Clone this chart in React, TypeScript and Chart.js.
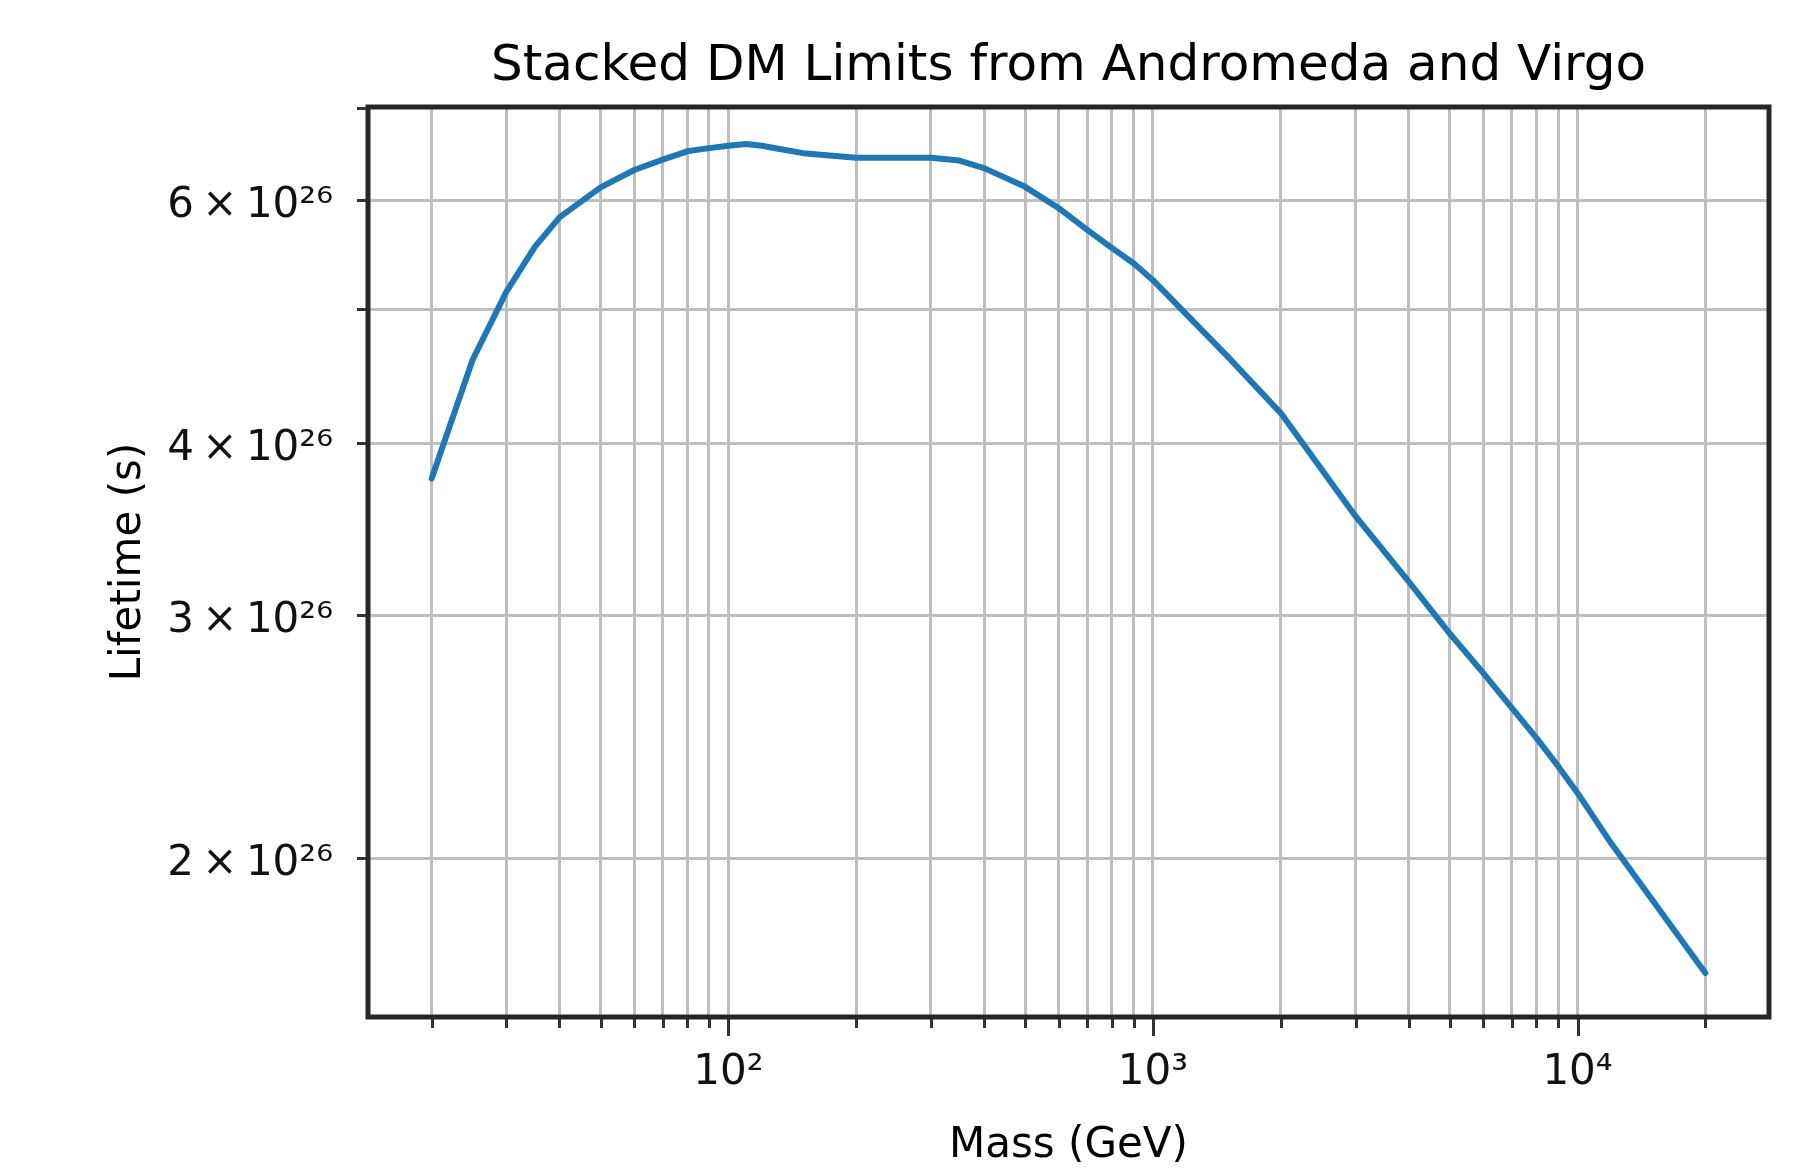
import React, { useEffect, useRef } from 'react';
import { Chart, registerables } from 'chart.js';

Chart.register(...registerables);

// ---- data ----
const masses = [20, 25, 30, 35, 40, 50, 60, 70, 80, 90, 100, 110, 120, 130, 150, 200, 250, 300, 350, 400, 500, 600, 700, 800, 900, 1000, 1500, 2000, 3000, 4000, 5000, 6000, 7000, 8000, 9000, 10000, 12000, 20000];
// lifetime in units of 1e26 s
const lifetimes = [3.77, 4.6, 5.15, 5.55, 5.83, 6.13, 6.31, 6.42, 6.51, 6.545, 6.57, 6.59, 6.57, 6.54, 6.49, 6.44, 6.44, 6.44, 6.41, 6.33, 6.135, 5.92, 5.71, 5.54, 5.4, 5.25, 4.62, 4.205, 3.54, 3.175, 2.91, 2.724, 2.57, 2.445, 2.332, 2.23, 2.05, 1.651];
const lifetimeScale = 1e26;

const xTickValues = [20, 30, 40, 50, 60, 70, 80, 90, 100, 200, 300, 400, 500, 600, 700, 800, 900, 1000, 2000, 3000, 4000, 5000, 6000, 7000, 8000, 9000, 10000, 20000];
const xMajorValues = [100, 1000, 10000];
const xMajorLabels = ['10²', '10³', '10⁴'];

const yTickMantissas = [2, 3, 4, 5, 6, 7];
const yTickLabels = ['2\u2009×\u200910²⁶', '3\u2009×\u200910²⁶', '4\u2009×\u200910²⁶', '', '6\u2009×\u200910²⁶', ''];

const xLimits = [14.16, 28250];
const yLimits = [1.534e26, 7.01e26];

const titleText = 'Stacked DM Limits from Andromeda and Virgo';
const xTitle = 'Mass (GeV)';
const yTitle = 'Lifetime (s)';

const FONT = '"DejaVu Sans", "Liberation Sans", sans-serif';

const framePlugin = {
  id: 'mplFrame',
  afterDraw(chart: any) {
    const { ctx, chartArea: a, scales } = chart;
    ctx.save();
    // tick marks
    ctx.strokeStyle = '#333333';
    ctx.lineWidth = 3;
    ctx.beginPath();
    xTickValues.forEach((v) => {
      const px = Math.round(scales.x.getPixelForValue(v)) + 0.5;
      const len = xMajorValues.includes(v) ? 19 : 11;
      ctx.moveTo(px, a.bottom);
      ctx.lineTo(px, a.bottom + len);
    });
    yTickMantissas.forEach((m) => {
      const v = m * lifetimeScale;
      if (v < yLimits[0] || v > yLimits[1]) return;
      const py = Math.round(scales.y.getPixelForValue(v)) + 0.5;
      ctx.moveTo(a.left, py);
      ctx.lineTo(a.left - 11, py);
    });
    ctx.stroke();
    // frame
    ctx.strokeStyle = '#262626';
    ctx.lineWidth = 5;
    ctx.strokeRect(a.left, a.top, a.right - a.left, a.bottom - a.top);
    // titles
    ctx.fillStyle = '#000000';
    ctx.textAlign = 'center';
    ctx.textBaseline = 'alphabetic';
    const cx = (a.left + a.right) / 2;
    ctx.font = `50px ${FONT}`;
    ctx.fillText(titleText, cx, 80);
    ctx.font = `42px ${FONT}`;
    ctx.fillText(xTitle, cx, 1157);
    ctx.translate(140, (a.top + a.bottom) / 2);
    ctx.rotate(-Math.PI / 2);
    ctx.fillText(yTitle, 0, 0);
    ctx.restore();
  },
};

export default function App() {
  const canvasRef = useRef<HTMLCanvasElement | null>(null);

  useEffect(() => {
    const canvas = canvasRef.current;
    if (!canvas) return;
    const points = masses.map((m, i) => ({ x: m, y: lifetimes[i] * lifetimeScale }));
    const chart = new Chart(canvas, {
      type: 'line',
      data: {
        datasets: [
          {
            data: points,
            borderColor: '#1f77b4',
            backgroundColor: '#1f77b4',
            borderWidth: 6,
            pointRadius: 0,
            tension: 0,
            fill: false,
            borderJoinStyle: 'round',
            borderCapStyle: 'round',
          },
        ],
      },
      options: {
        animation: false,
        responsive: false,
        maintainAspectRatio: false,
        devicePixelRatio: 1,
        parsing: false,
        layout: { padding: { left: 0, right: 36, top: 107, bottom: 0 } },
        plugins: {
          legend: { display: false },
          title: { display: false },
          tooltip: { enabled: false },
        },
        scales: {
          x: {
            type: 'logarithmic',
            position: 'bottom',
            min: xLimits[0],
            max: xLimits[1],
            bounds: 'data',
            afterBuildTicks: (s: any) => {
              s.ticks = xTickValues.map((v) => ({ value: v }));
            },
            afterFit: (s: any) => {
              s.height = 151;
            },
            grid: { color: '#bfbfbf', lineWidth: 3, drawTicks: false },
            border: { display: false },
            ticks: {
              autoSkip: false,
              maxRotation: 0,
              minRotation: 0,
              padding: 35,
              color: '#111111',
              font: { family: FONT, size: 42, lineHeight: 1 },
              callback: (value: any) => {
                const i = xMajorValues.indexOf(Number(value));
                return i >= 0 ? xMajorLabels[i] : '';
              },
            },
          },
          y: {
            type: 'logarithmic',
            position: 'left',
            min: yLimits[0],
            max: yLimits[1],
            bounds: 'data',
            afterBuildTicks: (s: any) => {
              s.ticks = yTickMantissas.map((m) => ({ value: m * lifetimeScale }));
            },
            afterFit: (s: any) => {
              s.width = 368;
            },
            grid: { color: '#bfbfbf', lineWidth: 3, drawTicks: false },
            border: { display: false },
            ticks: {
              autoSkip: false,
              padding: 35,
              labelOffset: 6,
              color: '#111111',
              font: { family: FONT, size: 42, lineHeight: 1 },
              callback: (value: any) => {
                const m = Math.round(Number(value) / lifetimeScale);
                const i = yTickMantissas.indexOf(m);
                return i >= 0 ? yTickLabels[i] : '';
              },
            },
          },
        },
      },
      plugins: [framePlugin],
    } as any);
    return () => chart.destroy();
  }, []);

  return (
    <div style={{ position: 'fixed', left: 0, top: 0, width: 1805, height: 1168, background: '#ffffff' }}>
      <canvas ref={canvasRef} width={1805} height={1168} style={{ display: 'block', width: 1805, height: 1168 }} />
    </div>
  );
}
